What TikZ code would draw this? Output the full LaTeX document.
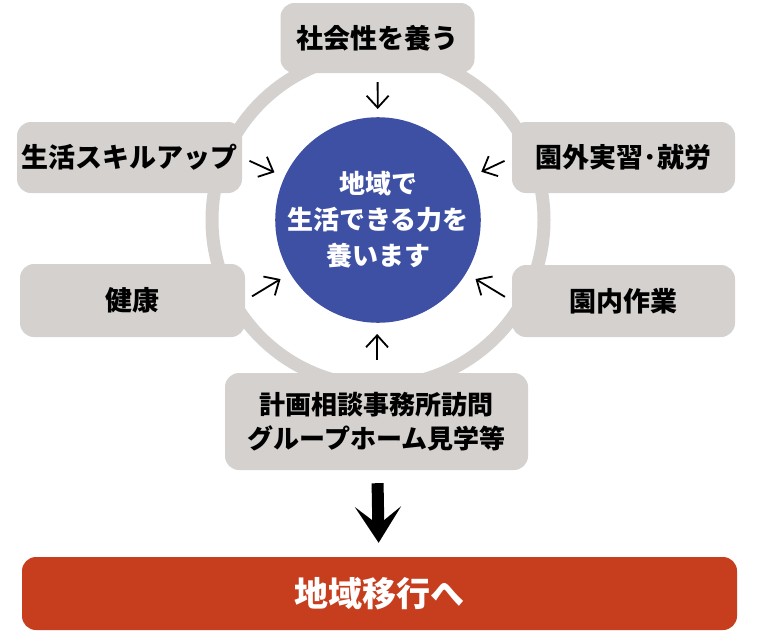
\documentclass[tikz,border=0pt]{standalone}
\usepackage{fontspec}
\setmainfont{Noto Sans CJK JP}
\usepackage{xcolor}
\usetikzlibrary{arrows.meta}

\definecolor{ringgray}{HTML}{D4D1CE}
\definecolor{coreblue}{HTML}{3E50A4}
\definecolor{goalred}{HTML}{C73E1F}

\begin{document}
\begin{tikzpicture}[x=1pt,y=-1pt,
		box/.style={fill=ringgray, rounded corners=14pt, inner sep=0pt, align=center,
			font=\fontsize{27}{34}\selectfont\bfseries},
		arr/.style={-{Straight Barb[length=12pt,width=22pt]}, line width=1.8pt},
		bigarr/.style={-{Stealth[length=36pt,width=46pt,inset=18pt]}, line width=12pt}]
				\useasboundingbox (0,0) rectangle (760,640);
				% the ring behind the boxes
				\draw[ringgray, line width=13pt] (378,220) circle (166pt);
				\node[circle, fill=coreblue, minimum size=204pt, inner sep=0pt, text=white, align=center,
					font=\fontsize{26}{36}\selectfont\bfseries] (core) at (378,220) {地域で\\生活できる力を\\養います};
				\node[box, minimum width=194pt, minimum height=70pt] (sociality) at (377.5,38) {社会性を養う};
				\node[box, minimum width=225pt, minimum height=71pt] (skill) at (129.5,157.5) {生活スキルアップ};
				\node[box, minimum width=225pt, minimum height=73pt] (health) at (132.5,300.5) {健康};
				\node[box, minimum width=223pt, minimum height=71pt] (outside) at (623.5,157.5) {園外実習･就労};
				\node[box, minimum width=223pt, minimum height=72pt] (inside) at (623.5,301) {園内作業};
				\node[box, minimum width=303pt, minimum height=97pt,
					font=\fontsize{26}{34}\selectfont\bfseries] (visit) at (376.5,421.5) {計画相談事務所訪問\\グループホーム見学等};
				\node[fill=goalred, rounded corners=14pt, minimum width=715pt, minimum height=73pt, text=white,
					font=\fontsize{34}{40}\selectfont\bfseries] (goal) at (379.5,593.5) {地域移行へ};
				% small arrows into the centre
				\draw[arr, shorten <=9pt, shorten >=8pt] (sociality) -- (core);
				\draw[arr, shorten <=8pt, shorten >=11pt] (skill.east) -- (core);
				\draw[arr, shorten <=8pt, shorten >=11pt] (health.east) -- (core);
				\draw[arr, shorten <=8pt, shorten >=11pt] (outside.west) -- (core);
				\draw[arr, shorten <=8pt, shorten >=11pt] (inside.west) -- (core);
				\draw[arr, shorten <=13pt, shorten >=11pt] (visit) -- (core);
				\draw[bigarr, shorten <=13pt, shorten >=14pt] (visit) -- (goal);
\end{tikzpicture}
\end{document}
